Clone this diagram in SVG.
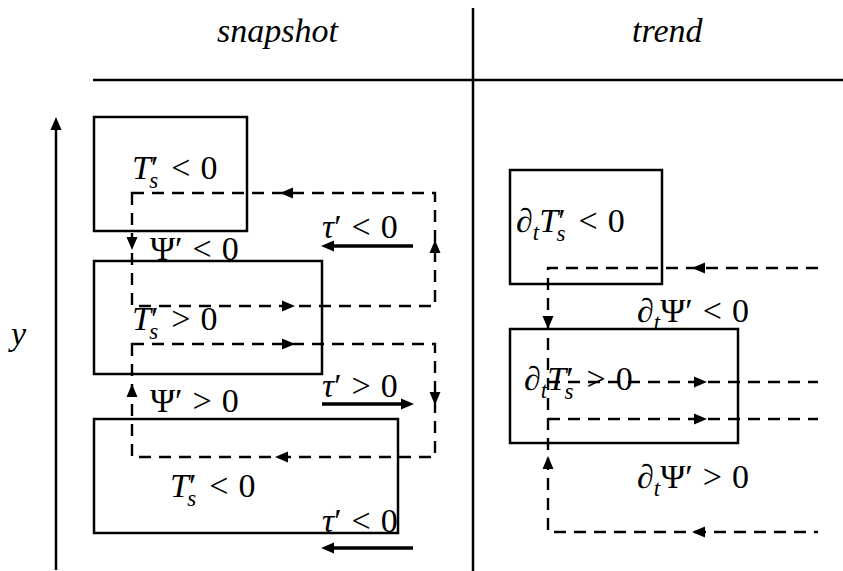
<svg xmlns="http://www.w3.org/2000/svg" xmlns:xlink="http://www.w3.org/1999/xlink" width="843" height="571" viewBox="0 0 843 571">
<style>
.m{font-family:"Liberation Serif","DejaVu Serif",serif;font-size:34px;fill:#000}
.i{font-style:italic}
.sb{font-size:23px}
.box{fill:none;stroke:#000;stroke-width:2.5}
.rule{fill:none;stroke:#000;stroke-width:2.5}
.dash{fill:none;stroke:#000;stroke-width:2.4;stroke-dasharray:12 8}
.tau{fill:none;stroke:#000;stroke-width:3.5}
</style>
<defs>
<path id="ah" d="M0,0 L-13,-5.5 L-13,5.5 Z" fill="#000"/>
</defs>
<rect width="843" height="571" fill="#fff"/>

<g id="frame">
<line class="rule" x1="93" y1="80" x2="843" y2="80"/>
<line class="rule" x1="473" y1="8" x2="473" y2="571"/>
<line class="rule" x1="56" y1="128" x2="56" y2="570"/>
<use xlink:href="#ah" transform="translate(56,117) rotate(-90)"/>
<text class="m i" x="217" y="42">snapshot</text>
<text class="m i" x="632" y="42">trend</text>
<text class="m i" x="11" y="345">y</text>
</g>

<g id="connectors">
<path class="dash" d="M132,193 H435 V306 H132 Z"/>
<path class="dash" d="M132,344 H435 V457 H132 Z"/>
<path class="dash" d="M818,268 H548 V532 H818"/>
<path class="dash" d="M548,382 H818"/>
<path class="dash" d="M548,419 H818"/>
<use xlink:href="#ah" transform="translate(280,193) rotate(180)"/>
<use xlink:href="#ah" transform="translate(435,240) rotate(-90)"/>
<use xlink:href="#ah" transform="translate(295,306)"/>
<use xlink:href="#ah" transform="translate(132,250) rotate(90)"/>
<use xlink:href="#ah" transform="translate(295,344)"/>
<use xlink:href="#ah" transform="translate(435,405) rotate(90)"/>
<use xlink:href="#ah" transform="translate(275,457) rotate(180)"/>
<use xlink:href="#ah" transform="translate(132,384) rotate(-90)"/>
<use xlink:href="#ah" transform="translate(692,268) rotate(180)"/>
<use xlink:href="#ah" transform="translate(548,329) rotate(90)"/>
<use xlink:href="#ah" transform="translate(707,382)"/>
<use xlink:href="#ah" transform="translate(707,419)"/>
<use xlink:href="#ah" transform="translate(548,456) rotate(-90)"/>
<use xlink:href="#ah" transform="translate(692,532) rotate(180)"/>
<line class="tau" x1="413" y1="246" x2="332" y2="246"/>
<use xlink:href="#ah" transform="translate(321,246) rotate(180)"/>
<line class="tau" x1="322" y1="404" x2="403" y2="404"/>
<use xlink:href="#ah" transform="translate(414,404)"/>
<line class="tau" x1="413" y1="548" x2="332" y2="548"/>
<use xlink:href="#ah" transform="translate(321,548) rotate(180)"/>
</g>

<g id="box-ts-neg-top">
<rect class="box" x="94" y="117" width="153" height="114"/>
<text class="m" x="132" y="179"><tspan class="i">T</tspan><tspan>′</tspan><tspan class="i sb" dx="-9" dy="9">s</tspan><tspan dx="13" dy="-9">&lt;</tspan><tspan dx="10">0</tspan></text>
</g>

<g id="box-ts-pos">
<rect class="box" x="94" y="261" width="228" height="113"/>
<text class="m" x="132" y="330"><tspan class="i">T</tspan><tspan>′</tspan><tspan class="i sb" dx="-9" dy="9">s</tspan><tspan dx="13" dy="-9">&gt;</tspan><tspan dx="10">0</tspan></text>
</g>

<g id="box-ts-neg-bottom">
<rect class="box" x="94" y="419" width="304" height="114"/>
<text class="m" x="170" y="497"><tspan class="i">T</tspan><tspan>′</tspan><tspan class="i sb" dx="-9" dy="9">s</tspan><tspan dx="13" dy="-9">&lt;</tspan><tspan dx="10">0</tspan></text>
</g>

<g id="box-dt-neg">
<rect class="box" x="510" y="170" width="152" height="114"/>
<text class="m" x="516" y="232">∂<tspan class="i sb" dy="8">t</tspan><tspan class="i" dy="-8">T</tspan><tspan>′</tspan><tspan class="i sb" dx="-9" dy="9">s</tspan><tspan dx="13" dy="-9">&lt;</tspan><tspan dx="10">0</tspan></text>
</g>

<g id="box-dt-pos">
<rect class="box" x="510" y="329" width="228" height="114"/>
<text class="m" x="524" y="390">∂<tspan class="i sb" dy="8">t</tspan><tspan class="i" dy="-8">T</tspan><tspan>′</tspan><tspan class="i sb" dx="-9" dy="9">s</tspan><tspan dx="13" dy="-9">&gt;</tspan><tspan dx="10">0</tspan></text>
</g>

<g id="labels">
<text class="m" x="150" y="260">Ψ′<tspan dx="10">&lt;</tspan><tspan dx="10">0</tspan></text>
<text class="m" x="150" y="412">Ψ′<tspan dx="10">&gt;</tspan><tspan dx="10">0</tspan></text>
<text class="m" x="322" y="238"><tspan class="i">τ</tspan>′<tspan dx="10">&lt;</tspan><tspan dx="10">0</tspan></text>
<text class="m" x="322" y="397"><tspan class="i">τ</tspan>′<tspan dx="10">&gt;</tspan><tspan dx="10">0</tspan></text>
<text class="m" x="322" y="532"><tspan class="i">τ</tspan>′<tspan dx="10">&lt;</tspan><tspan dx="10">0</tspan></text>
<text class="m" x="637" y="322">∂<tspan class="i sb" dy="8">t</tspan><tspan dy="-8">Ψ′</tspan><tspan dx="10">&lt;</tspan><tspan dx="10">0</tspan></text>
<text class="m" x="637" y="488">∂<tspan class="i sb" dy="8">t</tspan><tspan dy="-8">Ψ′</tspan><tspan dx="10">&gt;</tspan><tspan dx="10">0</tspan></text>
</g>
</svg>
